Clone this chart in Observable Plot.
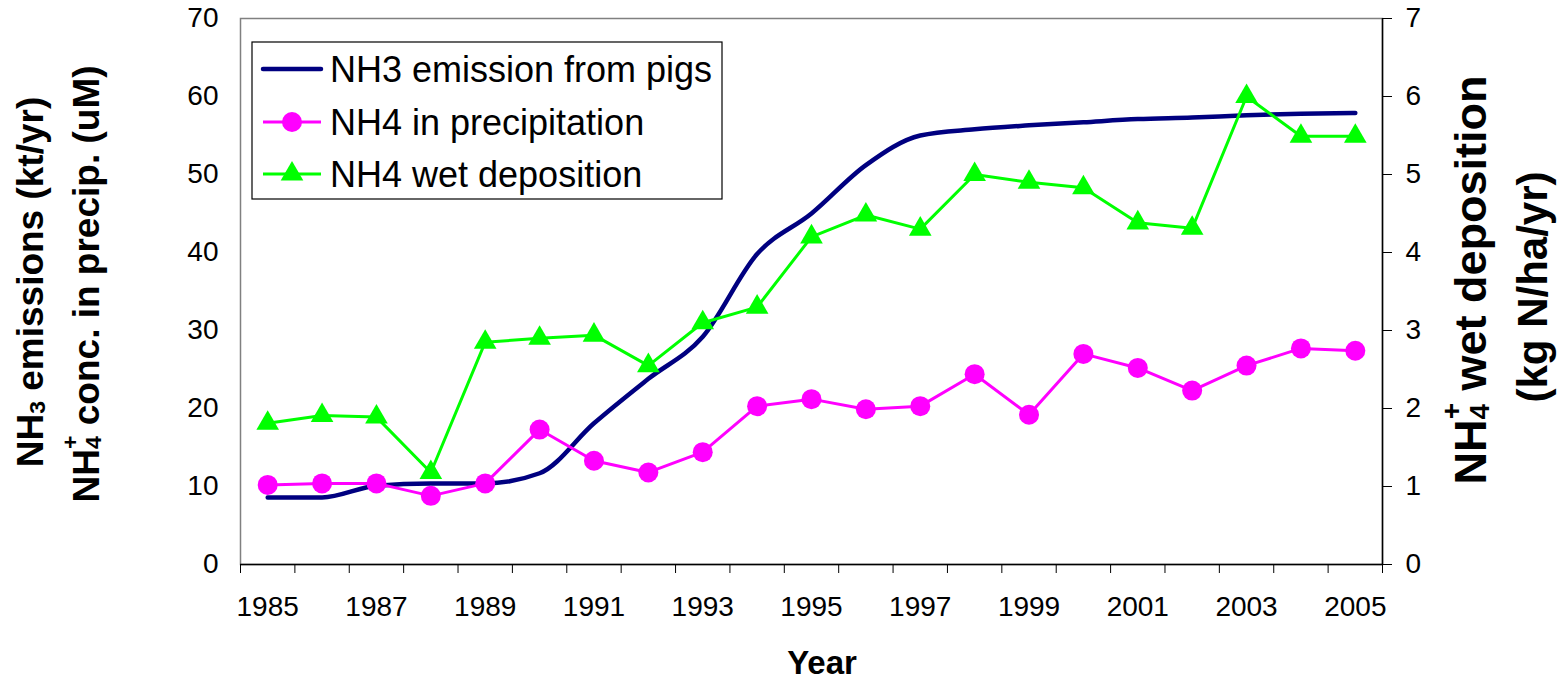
<!DOCTYPE html>
<html>
<head>
<meta charset="utf-8">
<script src="https://cdn.jsdelivr.net/npm/d3@7"></script>
<script src="https://cdn.jsdelivr.net/npm/@observablehq/plot@0.6"></script>
<style>
  html, body { margin: 0; padding: 0; background: #fff; }
  svg { display: block; }
</style>
</head>
<body>
<div id="chart"></div>
<script>
// ---- data ----
const years = [1985,1986,1987,1988,1989,1990,1991,1992,1993,1994,1995,1996,1997,1998,1999,2000,2001,2002,2003,2004,2005];
const nh3Emission = [8.6,8.6,10.1,10.4,10.4,11.7,18.1,23.8,29.2,39.8,45.0,51.2,55.0,55.8,56.3,56.7,57.1,57.3,57.6,57.8,57.9];
const nh4Precip = [10.2,10.4,10.4,8.8,10.4,17.3,13.3,11.8,14.4,20.3,21.2,19.9,20.3,24.4,19.2,27.0,25.2,22.3,25.5,27.7,27.4];
const nh4WetDep = [1.81,1.91,1.89,1.18,2.85,2.90,2.94,2.55,3.10,3.30,4.20,4.48,4.30,5.00,4.90,4.83,4.38,4.31,6.00,5.49,5.49];
const xTickLabels = [1985,1987,1989,1991,1993,1995,1997,1999,2001,2003,2005];
const leftTicks = [0,10,20,30,40,50,60,70];
const rightTicks = [0,1,2,3,4,5,6,7];
const seriesNames = ["NH3 emission from pigs","NH4 in precipitation","NH4 wet deposition"];
const colors = ["#000080","#FF00FF","#00FF00"];

const table = years.map((y,i)=>({year:y, nh3:nh3Emission[i], precip:nh4Precip[i], wet:nh4WetDep[i]}));
const bounds = years.map(y=>y-0.5).concat([years[years.length-1]+0.5]);
const ratio = 10; // left axis 0-70 vs right axis 0-7

const font = "'Liberation Sans', Arial, sans-serif";

const chart = Plot.plot({
  width: 1561, height: 680,
  marginLeft: 240, marginRight: 179, marginTop: 18, marginBottom: 116,
  x: {type: "linear", domain: [bounds[0], bounds[bounds.length-1]]},
  y: {domain: [0, 70]},
  style: {fontFamily: font, background: "white", color: "black"},
  marks: [
    Plot.frame({stroke: "#808080", strokeWidth: 1.5}),
    Plot.axisX(bounds, {tickSize: 9, tickFormat: () => "", stroke: "black", label: null}),
    Plot.axisX(xTickLabels, {tickSize: 0, tickPadding: 32, fontSize: 28, tickFormat: d => String(d), label: null}),
    Plot.axisY(leftTicks, {anchor: "left", tickSize: 0, tickPadding: 22, fontSize: 28, label: null}),
    Plot.axisY(rightTicks.map(d => d*ratio), {anchor: "right", tickSize: 9, tickPadding: 14, fontSize: 28, tickFormat: d => String(d/ratio), stroke: "black", label: null}),
    Plot.ruleY([0], {stroke: "black", strokeWidth: 1.5}),
    Plot.ruleX([bounds[bounds.length-1]], {stroke: "black", strokeWidth: 1.5}),
    Plot.line(table, {x: "year", y: "nh3", stroke: colors[0], strokeWidth: 4.5, curve: "monotone-x"}),
    Plot.line(table, {x: "year", y: "precip", stroke: colors[1], strokeWidth: 3}),
    Plot.dot(table, {x: "year", y: "precip", r: 10, fill: colors[1], stroke: "none"}),
    Plot.line(table, {x: "year", y: d => d.wet*ratio, stroke: colors[2], strokeWidth: 3}),
    Plot.dot(table, {x: "year", y: d => d.wet*ratio, symbol: "triangle", r: 8.4, fill: colors[2], stroke: "none"})
  ]
});
document.getElementById("chart").appendChild(chart);

// ---- titles and legend ----
const svg = d3.select(chart);
function vtitle(x, y, size, parts) {
  const t = svg.append("text")
    .attr("transform", `translate(${x},${y}) rotate(-90)`)
    .attr("text-anchor", "middle")
    .attr("dominant-baseline", "central")
    .attr("font-family", font)
    .attr("font-weight", "bold")
    .attr("font-size", size)
    .attr("fill", "black");
  parts(t, size);
  return t;
}
// Left title 1: NH3 emissions (kt/yr)
vtitle(30, 282, 37, (t, s) => {
  t.append("tspan").text("NH");
  t.append("tspan").attr("font-size", s*0.62).attr("dy", s*0.18).text("3");
  t.append("tspan").attr("dy", -s*0.18).text(" emissions (kt/yr)");
});
// Left title 2: NH4+ conc. in precip. (uM)
vtitle(86, 284, 37, (t, s) => {
  t.append("tspan").text("NH");
  t.append("tspan").attr("font-size", s*0.62).attr("dy", s*0.2).text("4");
  t.append("tspan").attr("font-size", s*0.62).attr("dx", -s*0.34).attr("dy", -s*0.62).text("+");
  t.append("tspan").attr("dy", s*0.42).text(" conc. in precip. (uM)");
});
// Right title 1: NH4+ wet deposition
vtitle(1470, 280, 45, (t, s) => {
  t.append("tspan").text("NH");
  t.append("tspan").attr("font-size", s*0.62).attr("dy", s*0.2).text("4");
  t.append("tspan").attr("font-size", s*0.62).attr("dx", -s*0.34).attr("dy", -s*0.62).text("+");
  t.append("tspan").attr("dy", s*0.42).text(" wet deposition");
});
// Right title 2
vtitle(1532, 287, 42, (t) => { t.text("(kg N/ha/yr)"); });

// X title
svg.append("text").attr("x", 822).attr("y", 662)
  .attr("text-anchor", "middle").attr("dominant-baseline", "central")
  .attr("font-family", font).attr("font-weight", "bold").attr("font-size", 33)
  .text("Year");

// Legend
const lg = svg.append("g");
lg.append("rect").attr("x", 252).attr("y", 42).attr("width", 470).attr("height", 157)
  .attr("fill", "white").attr("stroke", "black").attr("stroke-width", 1.2);
const rowsY = [69, 122, 174];
seriesNames.forEach((name, i) => {
  const y = rowsY[i];
  lg.append("line").attr("x1", 263).attr("x2", 321).attr("y1", y).attr("y2", y)
    .attr("stroke", colors[i]).attr("stroke-width", i === 0 ? 4.5 : 3).attr("stroke-linecap", i === 0 ? "round" : "butt");
  if (i === 1) lg.append("circle").attr("cx", 292).attr("cy", y).attr("r", 10).attr("fill", colors[1]);
  if (i === 2) lg.append("path").attr("transform", `translate(292,${y})`)
    .attr("d", d3.symbol(d3.symbolTriangle, Math.PI*8.4*8.4)()).attr("fill", colors[2]);
  lg.append("text").attr("x", 330).attr("y", y).attr("text-anchor", "start").attr("dominant-baseline", "central")
    .attr("font-family", font).attr("font-size", 36).attr("fill", "black").text(name);
});
</script>
</body>
</html>
